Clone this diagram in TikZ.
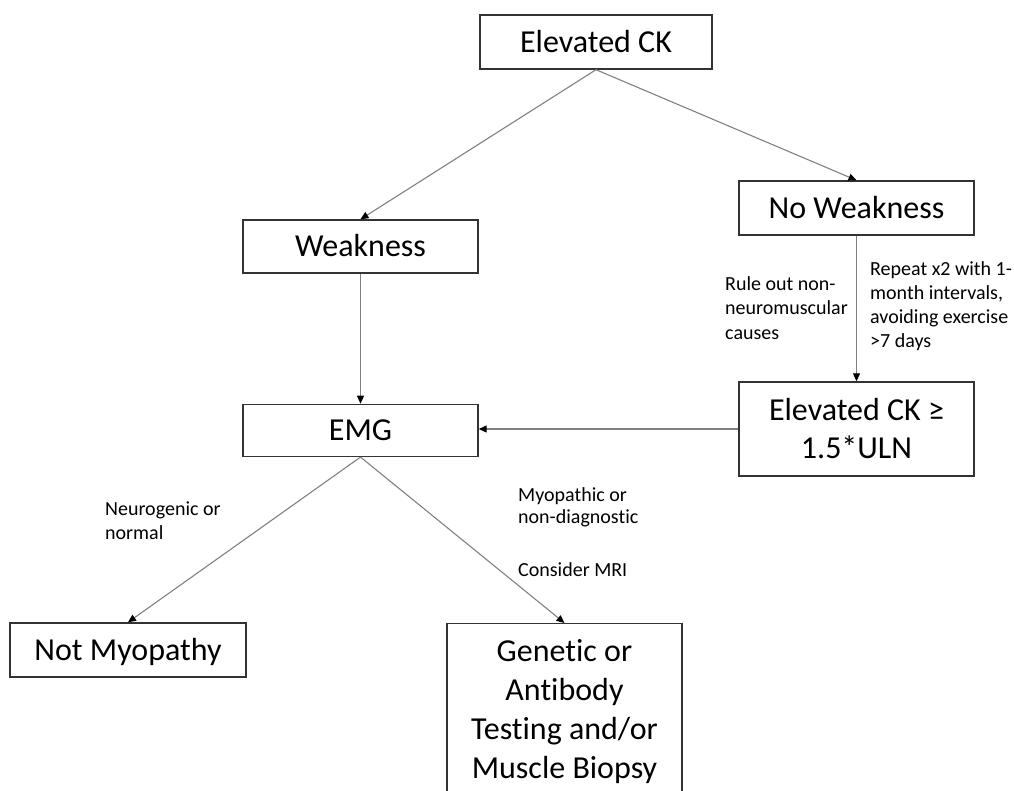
\documentclass[tikz,border=0pt]{standalone}
\usepackage{fontspec}
\setmainfont{Carlito}[Ligatures=NoCommon]
\usetikzlibrary{
    positioning,
    arrows.meta
    }

\begin{document}
\begin{tikzpicture}[x=1pt, y=-1pt]
\tikzset{stepbox/.style =
        {
            rectangle,
            draw=black!80,
            line width=1.4pt,
            minimum width=235pt,
            minimum height=53pt,
            inner sep=0pt,
            align=center,
            font=\fontsize{32}{38}\selectfont
        }
}

\tikzset{oneline/.style =
        {
            stepbox,
            text height=21pt,
            text depth=0pt
        }
}

\tikzset{flow/.style =
        {
            draw=black!50,
            line width=1.1pt,
            -{Triangle[length=8pt, width=7pt, color=black]}
        }
}

\tikzset{note/.style =
        {
            anchor=north west,
            inner sep=0pt,
            align=left,
            font=\fontsize{20}{24}\selectfont
        }
}
		\useasboundingbox (0,0) rectangle (1014,791);

		\node[oneline, minimum width=232pt, minimum height=54pt] (ck) at (596,42) {Elevated CK};
		\node[oneline] (weak) at (360.5,246.5) {Weakness};
		\node[oneline, minimum height=54pt] (noweak) at (856.5,208) {No Weakness};
		\node[oneline, minimum height=52pt, below=130pt of weak] (emg) {EMG};
		\node[stepbox, minimum height=94pt] (ckuln) at (856.5,429) {Elevated CK ≥\\1.5*ULN};
		\node[oneline, minimum width=236pt, minimum height=54pt] (notmyo) at (128,650) {Not Myopathy};
		\node[stepbox, anchor=north, inner ysep=16pt, font=\fontsize{32}{39}\selectfont] (gen) at (564.5,623)
			{Genetic or\\Antibody\\Testing and/or\\Muscle Biopsy};

		\draw[flow] (ck.south) -- (weak.north);
		\draw[flow] (ck.south) -- (noweak.north);
		\draw[flow] (weak.south) -- (emg.north);
		\draw[flow] (noweak.south) -- (ckuln.north);
		\draw[flow] (ckuln.west) -- (ckuln.west -| emg.east);
		\draw[flow] (emg.south) -- (notmyo.north);
		\draw[flow] (emg.south) -- (gen.north);

		% labels next to the connectors
		\node[note, font=\fontsize{20}{24.5}\selectfont] (ruleout) at (725,276) {Rule out non-\\neuromuscular\\causes};
		\node[note] (repeat) at (870,261) {Repeat x2 with 1-\\month intervals,\\avoiding exercise\\>7 days};
		\node[note] (neuro) at (105,502) {Neurogenic or\\normal};
		\node[note, font=\fontsize{20}{22}\selectfont] (myo) at (518,487) {Myopathic or\\non-diagnostic};
		\node[note] (mri) at (518,562) {Consider MRI};

	\end{tikzpicture}
\end{document}
